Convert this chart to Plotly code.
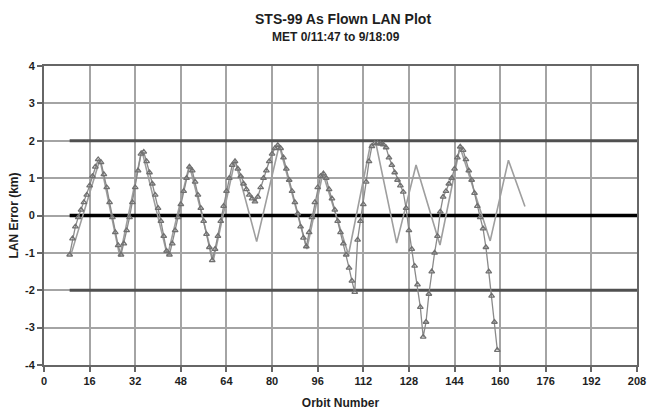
import plotly.graph_objects as go

# ---- data ----
flown_orbit = list(range(9, 160))
flown_lan = [
    -1.05, -0.62, -0.30, -0.05, 0.15, 0.35, 0.55, 0.80, 1.05, 1.30,   # 9-18
    1.50, 1.42, 1.10, 0.75, 0.35, -0.05, -0.45, -0.80, -1.05, -0.75,  # 19-28
    -0.40, -0.05, 0.35, 0.75, 1.20, 1.65, 1.70, 1.45, 1.15, 0.85,     # 29-38
    0.55, 0.20, -0.15, -0.55, -0.95, -1.05, -0.75, -0.40, -0.05, 0.30, # 39-48
    0.65, 1.00, 1.30, 1.20, 0.90, 0.55, 0.20, -0.15, -0.50, -0.85,    # 49-58
    -1.20, -0.90, -0.55, -0.15, 0.25, 0.65, 1.00, 1.35, 1.45, 1.25,   # 59-68
    1.05, 0.85, 0.70, 0.55, 0.45, 0.37, 0.50, 0.75, 1.00, 1.20,       # 69-78
    1.45, 1.65, 1.80, 1.88, 1.80, 1.55, 1.25, 0.95, 0.65, 0.35,       # 79-88
    0.05, -0.30, -0.60, -0.83, -0.45, -0.05, 0.35, 0.75, 1.05, 1.12,  # 89-98
    1.00, 0.70, 0.45, 0.15, -0.15, -0.45, -0.75, -1.05, -1.40, -1.75, # 99-108
    -2.05, -0.65, -0.15, 0.30, 0.90, 1.45, 1.85, 1.93, 1.93, 1.92,    # 109-118
    1.90, 1.82, 1.55, 1.35, 1.15, 0.95, 0.80, 0.63, 0.20, -0.40,      # 119-128
    -0.90, -1.35, -1.85, -2.45, -3.25, -2.85, -2.10, -1.50, -1.00, -0.55, # 129-138
    0.10, 0.50, 0.65, 0.85, 1.00, 1.25, 1.55, 1.84, 1.75, 1.50,       # 139-148
    1.20, 0.95, 0.60, 0.25, -0.05, -0.35, -0.85, -1.50, -2.15, -2.85, # 149-158
    -3.60,                                                            # 159
]

pred_orbit = [9.4, 19.6, 26.6, 34.3, 43.3, 51.0, 59.4, 67.0, 74.6, 82.5, 92.2,
              97.8, 106.8, 114.5, 116.5, 123.7, 130.5, 138.9, 145.9, 156.5,
              162.9, 168.7]
pred_lan = [-1.06, 1.50, -1.10, 1.75, -1.08, 1.35, -1.20, 1.48, -0.70, 1.88, -0.90,
            1.13, -1.05, 1.90, 1.90, -0.74, 1.35, -0.79, 1.84, -0.68,
            1.48, 0.24]

limit_levels = [2, -2]
zero_level = 0
limit_orbit_range = [9, 208]

x_ticks = list(range(0, 209, 16))
y_ticks = list(range(-4, 5))

title_lines = ["STS-99 As Flown LAN Plot", "MET 0/11:47 to 9/18:09"]
x_title = "Orbit Number"
y_title = "LAN Error (km)"

FONT = "Liberation Sans"
TXT = "#1e1e1e"
GRID = "#a4a4a4"
AXIS = "#666666"

W, H = 650, 412
ML, MR, MT, MB = 44, 13, 66, 47

fig = go.Figure()

for lv in limit_levels:
    fig.add_trace(go.Scatter(x=limit_orbit_range, y=[lv, lv], mode="lines",
                             line=dict(color="#505050", width=3), hoverinfo="skip",
                             showlegend=False))
fig.add_trace(go.Scatter(x=limit_orbit_range, y=[zero_level, zero_level], mode="lines",
                         line=dict(color="#000000", width=3.5), hoverinfo="skip",
                         showlegend=False))

fig.add_trace(go.Scatter(x=pred_orbit, y=pred_lan, mode="lines",
                         line=dict(color="#9e9e9e", width=1.6), showlegend=False))

fig.add_trace(go.Scatter(x=flown_orbit, y=flown_lan, mode="lines+markers",
                         line=dict(color="#8a8a8a", width=1.3),
                         marker=dict(symbol="triangle-up-open", size=5, color="#707070",
                                     line=dict(width=1.3, color="#707070")),
                         showlegend=False))

fig.update_layout(
    width=W, height=H,
    margin=dict(l=ML, r=MR, t=MT, b=MB, autoexpand=False),
    paper_bgcolor="white", plot_bgcolor="white",
    font=dict(family=FONT, size=11, color=TXT, weight="bold"),
)
plot_w = W - ML - MR
plot_h = H - MT - MB
# title rows (pixel centre x, centre y, font size)
for txt, cx, cy, fs in [(title_lines[0], 343, 19, 14), (title_lines[1], 336, 37, 12)]:
    fig.add_annotation(text=txt, xref="paper", yref="paper",
                       x=(cx - ML) / plot_w, y=(H - MB - cy) / plot_h,
                       xanchor="center", yanchor="middle", showarrow=False,
                       font=dict(family=FONT, size=fs, color=TXT, weight="bold"))

fig.update_xaxes(range=[0, 208], tickvals=x_ticks, ticktext=[str(v) for v in x_ticks],
                 showgrid=True, gridcolor=GRID, gridwidth=2,
                 showline=True, linecolor=AXIS, linewidth=2, mirror=True,
                 ticks="outside", ticklen=5, tickcolor=AXIS, tickwidth=1.5,
                 zeroline=False, automargin=False, ticklabeloverflow="allow",
                 title=dict(text=x_title, standoff=12,
                            font=dict(family=FONT, size=12, color=TXT, weight="bold")),
                 tickfont=dict(family=FONT, size=11, color=TXT, weight="bold"))
fig.update_yaxes(range=[-4, 4], tickvals=y_ticks, ticktext=[str(v) for v in y_ticks],
                 showgrid=True, gridcolor=GRID, gridwidth=2,
                 showline=True, linecolor=AXIS, linewidth=2, mirror=True,
                 ticks="outside", ticklen=5, tickcolor=AXIS, tickwidth=1.5,
                 zeroline=False, automargin=False,
                 title=dict(text=y_title, standoff=4,
                            font=dict(family=FONT, size=12, color=TXT, weight="bold")),
                 tickfont=dict(family=FONT, size=11, color=TXT, weight="bold"))

fig.write_html("out.html", config={"displayModeBar": False},
               post_script="document.body.style.margin='0';document.body.style.overflow='hidden';")
